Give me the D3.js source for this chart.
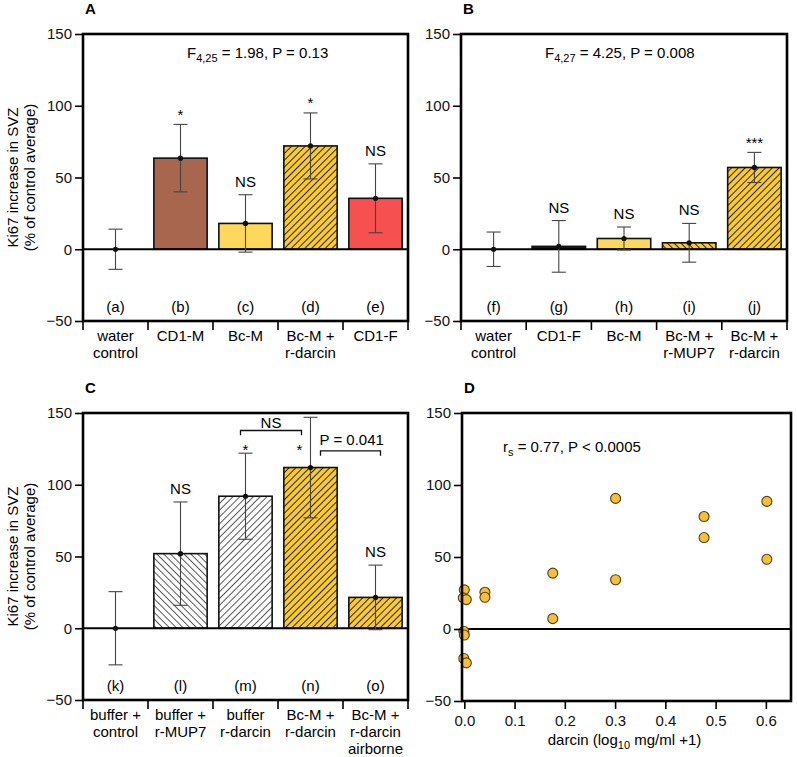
<!DOCTYPE html>
<html>
<head>
<meta charset="utf-8">
<script src="https://cdn.jsdelivr.net/npm/d3@7/dist/d3.min.js"></script>
<style>
  html, body { margin: 0; padding: 0; background: #fff; }
  svg { display: block; font-family: "Liberation Sans", Arial, Helvetica, sans-serif; }
</style>
</head>
<body>
<svg id="chart" width="797" height="757"></svg>
<script>
// ---------------- DATA ----------------
const yTicks = [-50, 0, 50, 100, 150];

// Panel A
const catsA = ["water\ncontrol", "CD1-M", "Bc-M", "Bc-M +\nr-darcin", "CD1-F"];
const lettersA = ["(a)", "(b)", "(c)", "(d)", "(e)"];
const meansA = [0, 63.5, 18, 72, 35.5];
const errsA = [14, 23.5, 20, 23, 24];
const sigA = ["", "*", "NS", "*", "NS"];
const statA = ["F", "4,25", " = 1.98, P = 0.13"];

// Panel B
const catsB = ["water\ncontrol", "CD1-F", "Bc-M", "Bc-M +\nr-MUP7", "Bc-M +\nr-darcin"];
const lettersB = ["(f)", "(g)", "(h)", "(i)", "(j)"];
const meansB = [0, 2, 7.5, 4.5, 57];
const errsB = [12, 18, 8, 13.5, 10.5];
const sigB = ["", "NS", "NS", "NS", "***"];
const statB = ["F", "4,27", " = 4.25, P = 0.008"];

// Panel C
const catsC = ["buffer +\ncontrol", "buffer +\nr-MUP7", "buffer\nr-darcin", "Bc-M +\nr-darcin", "Bc-M +\nr-darcin\nairborne"];
const lettersC = ["(k)", "(l)", "(m)", "(n)", "(o)"];
const meansC = [0, 52, 92, 112, 21.5];
const errsC = [25.5, 36, 30, 35, 22.5];
const sigC = ["", "NS", "", "", "NS"];
const bracketNS = { from: 2, to: 3, label: "NS" };
const bracketP = { from: 3, to: 4, label: "P = 0.041" };

// Panel D
const darcinX = [0, -0.002, 0.004, -0.001, 0, -0.001, 0.004, 0.041, 0.041, 0.176, 0.176, 0.301, 0.301, 0.477, 0.477, 0.602, 0.602];
const ki67Y = [27.2, 21.6, 20.4, -1.6, -4.2, -20.5, -23.5, 25.5, 22, 38.8, 7.2, 90.7, 34.2, 78.1, 63.5, 88.6, 48.4];
const xTicksD = [0, 0.1, 0.2, 0.3, 0.4, 0.5, 0.6];
const statD = ["r", "s", " = 0.77, P < 0.0005"];

// ---------------- STYLES ----------------
const YEL = "#fdd85a", YELH = "#f7c934", BROWN = "#a8664f", RED = "#f65050", DARK = "#2a1410";
const styleA = [null, { fill: BROWN }, { fill: YEL }, { fill: YELH, hatch: "fwd" }, { fill: RED }];
const styleB = [null, { fill: DARK }, { fill: YEL }, { fill: YELH, hatch: "back" }, { fill: YELH, hatch: "fwd" }];
const styleC = [null, { fill: "#ffffff", hatch: "back" }, { fill: "#ffffff", hatch: "fwd" }, { fill: YELH, hatch: "fwd" }, { fill: YELH, hatch: "fwd" }];

const svg = d3.select("#chart");
const defs = svg.append("defs");
const FS = 15;

function patternFor(st) {
  if (!st.hatch) return st.fill;
  const id = "p" + st.fill.replace("#", "") + st.hatch;
  if (defs.select("#" + id).empty()) {
    const p = defs.append("pattern").attr("id", id)
      .attr("patternUnits", "userSpaceOnUse").attr("width", 4.8).attr("height", 10)
      .attr("patternTransform", `rotate(${st.hatch === "fwd" ? 45 : -45})`);
    p.append("rect").attr("width", 4.8).attr("height", 10).attr("fill", st.fill);
    p.append("line").attr("x1", 2.4).attr("x2", 2.4).attr("y1", 0).attr("y2", 10)
      .attr("stroke", st.fill === "#ffffff" ? "#555" : "#2a2210").attr("stroke-width", 1);
  }
  return `url(#${id})`;
}

function subText(g, x, y, parts, anchor) {
  const t = g.append("text").attr("x", x).attr("y", y).attr("font-size", FS).attr("text-anchor", anchor || "start");
  t.append("tspan").text(parts[0]);
  t.append("tspan").attr("font-size", 11).attr("dy", 4).text(parts[1]);
  t.append("tspan").attr("dy", -4).text(parts[2]);
  return t;
}

function yAxisBlock(g, y, box, showTitle) {
  const ax = g.append("g").attr("transform", `translate(${box.l},0)`)
    .call(d3.axisLeft(y).tickValues(yTicks).tickSize(8).tickPadding(3));
  ax.select(".domain").remove();
  ax.selectAll(".tick line").attr("stroke", "#000").attr("stroke-width", 1.6);
  ax.selectAll(".tick text").attr("font-size", FS).attr("font-family", null).attr("fill", "#111");
  if (showTitle) {
    const cy = (box.t + box.b) / 2;
    g.append("text").attr("transform", `translate(18,${cy}) rotate(-90)`)
      .attr("text-anchor", "middle").attr("font-size", FS).text("Ki67 increase in SVZ");
    g.append("text").attr("transform", `translate(35,${cy}) rotate(-90)`)
      .attr("text-anchor", "middle").attr("font-size", FS).text("(% of control average)");
  }
}

function barPanel(box, cats, letters, means, errs, sigs, styles, stat, statX, letter, showTitle) {
  const g = svg.append("g");
  const y = d3.scaleLinear().domain([-50, 150]).range([box.b, box.t]);
  const x = d3.scaleBand().domain(d3.range(cats.length)).range([box.l, box.r])
    .paddingInner(0.18).paddingOuter(0.09);
  const step = x.step();
  const cx = i => x(i) + x.bandwidth() / 2;

  // bars
  g.selectAll(".bar").data(means.map((m, i) => ({ m, i })).filter(d => styles[d.i]))
    .join("rect")
    .attr("x", d => x(d.i)).attr("width", x.bandwidth())
    .attr("y", d => y(Math.max(0, d.m))).attr("height", d => Math.abs(y(d.m) - y(0)))
    .attr("fill", d => patternFor(styles[d.i]))
    .attr("stroke", "#111").attr("stroke-width", 1.6);

  // zero line
  g.append("line").attr("x1", box.l).attr("x2", box.r).attr("y1", y(0)).attr("y2", y(0))
    .attr("stroke", "#000").attr("stroke-width", 2.2);

  // error bars
  const eb = g.append("g").attr("stroke", "#444").attr("stroke-width", 1.1);
  means.forEach((m, i) => {
    const c = cx(i);
    eb.append("line").attr("x1", c).attr("x2", c).attr("y1", y(m + errs[i])).attr("y2", y(m - errs[i]));
    [m + errs[i], m - errs[i]].forEach(v =>
      eb.append("line").attr("x1", c - 7).attr("x2", c + 7).attr("y1", y(v)).attr("y2", y(v)));
    g.append("circle").attr("cx", c).attr("cy", y(m)).attr("r", 2.6).attr("fill", "#111");
    if (sigs[i]) {
      const off = sigs[i] === "NS" ? 8 : 4.5;
      g.append("text").attr("x", c).attr("y", y(m + errs[i]) - off)
        .attr("text-anchor", "middle").attr("font-size", FS).text(sigs[i]);
    }
    g.append("text").attr("x", c).attr("y", box.b - 9).attr("text-anchor", "middle")
      .attr("font-size", FS).text(letters[i]);
    const lines = cats[i].split("\n");
    lines.forEach((ln, k) =>
      g.append("text").attr("x", c).attr("y", box.b + 20 + k * 17).attr("text-anchor", "middle")
        .attr("font-size", FS).text(ln));
  });

  // bottom dividers
  const divs = d3.range(cats.length).map(i => x(i) - step * x.paddingInner() / 2).concat([box.r]);
  g.selectAll(".div").data(divs).join("line")
    .attr("x1", d => d).attr("x2", d => d).attr("y1", box.b).attr("y2", box.b + 9)
    .attr("stroke", "#000").attr("stroke-width", 1.6);

  yAxisBlock(g, y, box, showTitle);

  // frame
  g.append("rect").attr("x", box.l).attr("y", box.t).attr("width", box.r - box.l).attr("height", box.b - box.t)
    .attr("fill", "none").attr("stroke", "#000").attr("stroke-width", 2.6);

  if (stat) subText(g, statX, box.t + 24, stat);
  g.append("text").attr("x", box.l + 2).attr("y", box.t - 20).attr("font-size", 15)
    .attr("font-weight", "bold").text(letter);
  return { g, x, y, cx };
}

const boxA = { l: 83, r: 408, t: 34, b: 321 };
const boxB = { l: 461, r: 787, t: 34, b: 321 };
const boxC = { l: 83, r: 408, t: 413, b: 700 };
const boxD = { l: 462, r: 791, t: 413, b: 701 };

barPanel(boxA, catsA, lettersA, meansA, errsA, sigA, styleA, statA, 187, "A", true);
barPanel(boxB, catsB, lettersB, meansB, errsB, sigB, styleB, statB, 545, "B", false);
const pc = barPanel(boxC, catsC, lettersC, meansC, errsC, sigC, styleC, null, 0, "C", true);

// Panel C annotations (brackets and stars)
(function () {
  const g = pc.g, y = pc.y, cx = pc.cx;
  // stars
  g.append("text").attr("x", cx(2)).attr("y", y(120.5)).attr("text-anchor", "middle").attr("font-size", FS).text("*");
  g.append("text").attr("x", cx(3) - 11).attr("y", y(120.5)).attr("text-anchor", "middle").attr("font-size", FS).text("*");
  // NS bracket
  const x1 = cx(bracketNS.from) - 5, x2 = cx(bracketNS.to) - 9;
  const yTop = y(137.8), yLeg = y(134.5);
  g.append("path").attr("d", `M${x1},${yLeg}V${yTop}H${x2}V${yLeg}`)
    .attr("fill", "none").attr("stroke", "#111").attr("stroke-width", 1.3);
  g.append("text").attr("x", (x1 + x2) / 2).attr("y", yTop - 3).attr("text-anchor", "middle")
    .attr("font-size", FS).text(bracketNS.label);
  // P bracket
  const p1 = cx(bracketP.from) + 10, p2 = cx(bracketP.to) + 5;
  const pTop = y(123.6), pLeg = y(120.2);
  g.append("path").attr("d", `M${p1},${pLeg}V${pTop}H${p2}V${pLeg}`)
    .attr("fill", "none").attr("stroke", "#111").attr("stroke-width", 1.3);
  g.append("text").attr("x", p1 - 1).attr("y", pTop - 6).attr("font-size", FS).text(bracketP.label);
})();

// Panel D scatter
(function () {
  const box = boxD;
  const g = svg.append("g");
  const y = d3.scaleLinear().domain([-50, 150]).range([box.b, box.t]);
  const x = d3.scaleLinear().domain([-0.0046, 0.65]).range([box.l, box.r]);
  g.append("line").attr("x1", box.l).attr("x2", box.r).attr("y1", y(0)).attr("y2", y(0))
    .attr("stroke", "#000").attr("stroke-width", 2.2);
  g.selectAll(".pt").data(darcinX.map((v, i) => [v, ki67Y[i]])).join("circle")
    .attr("cx", d => x(d[0])).attr("cy", d => y(d[1])).attr("r", 5)
    .attr("fill", "#f4bf3c").attr("stroke", "#5a3e10").attr("stroke-width", 1.1);
  yAxisBlock(g, y, box, false);
  const ax = g.append("g").attr("transform", `translate(0,${box.b})`)
    .call(d3.axisBottom(x).tickValues(xTicksD).tickFormat(d3.format(".1f")).tickSize(8).tickPadding(6));
  ax.select(".domain").remove();
  ax.selectAll(".tick line").attr("stroke", "#000").attr("stroke-width", 1.6);
  ax.selectAll(".tick text").attr("font-size", FS).attr("font-family", null).attr("fill", "#111");
  g.append("rect").attr("x", box.l).attr("y", box.t).attr("width", box.r - box.l).attr("height", box.b - box.t)
    .attr("fill", "none").attr("stroke", "#000").attr("stroke-width", 2.6);
  subText(g, 503, 452, statD);
  const t = g.append("text").attr("x", (box.l + box.r) / 2 - 2).attr("y", 745)
    .attr("text-anchor", "middle").attr("font-size", FS);
  t.append("tspan").text("darcin (log");
  t.append("tspan").attr("font-size", 11).attr("dy", 4).text("10");
  t.append("tspan").attr("dy", -4).text(" mg/ml +1)");
  g.append("text").attr("x", box.l + 2).attr("y", box.t - 20).attr("font-size", 15)
    .attr("font-weight", "bold").text("D");
})();
</script>
</body>
</html>
